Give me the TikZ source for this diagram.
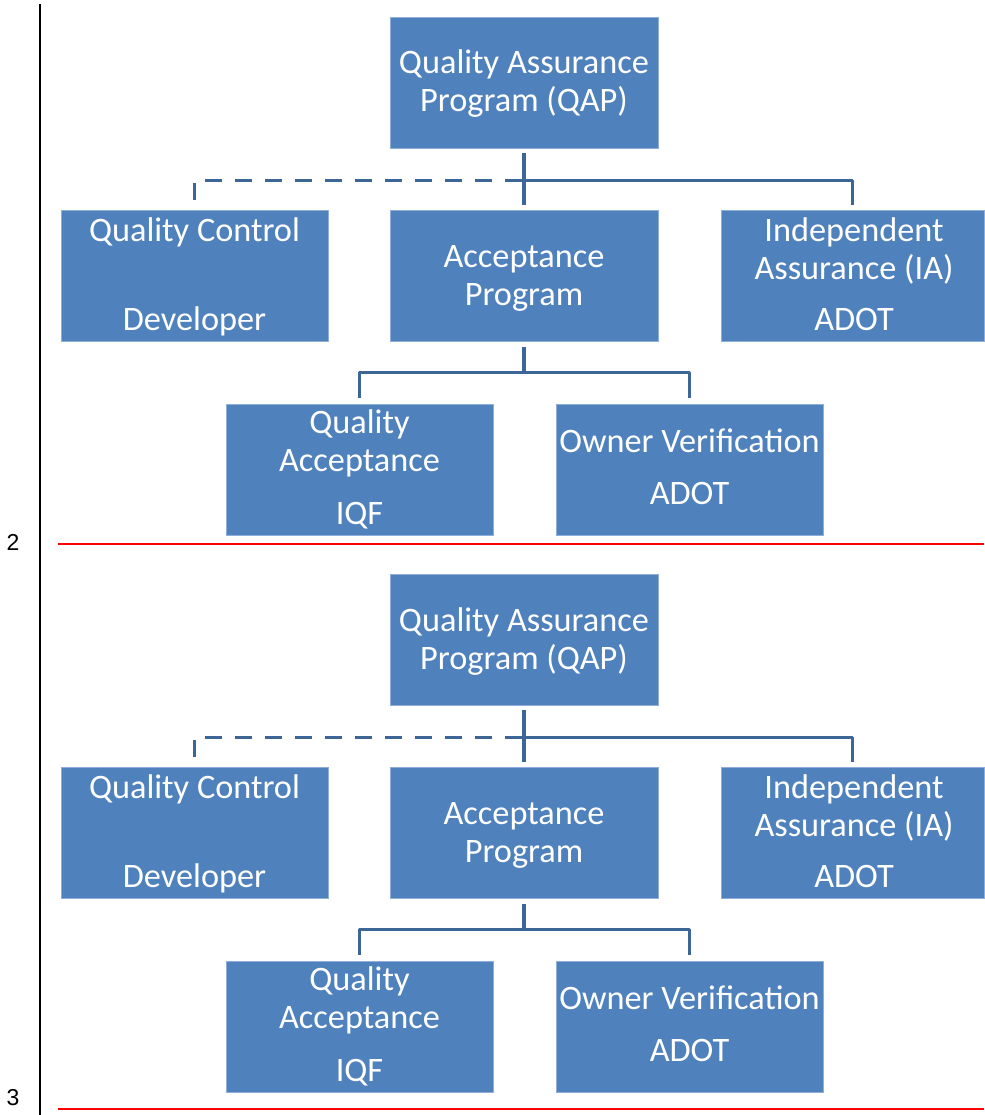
\documentclass[tikz,border=0pt]{standalone}
\usepackage{fontspec}
\setmainfont{Carlito}
\newfontfamily\arialfont{Liberation Sans}
\usetikzlibrary{calc}
\definecolor{boxblue}{HTML}{4F81BD}
\definecolor{boxedge}{HTML}{8FAEDA}
\definecolor{connblue}{HTML}{3C6696}
\tikzset{
  box/.style={draw=boxedge, line width=0.8pt, fill=boxblue, minimum height=131pt, inner sep=0pt},
  lbl/.style={anchor=base, text=white, inner sep=0pt, font=\fontsize{34.3}{40}\selectfont},
  conn/.style={draw=connblue, line width=3.4pt, line join=round},
  dconn/.style={conn, dash pattern=on 17pt off 13pt},
  pagenum/.style={anchor=base, inner sep=0pt, font=\arialfont\fontsize{23}{26}\selectfont}
}
\newcommand\qachart{%
  \node[box, minimum width=268pt] (qap) at (524,82.5) {};
  \node[box, minimum width=267pt] (qc) at (194.5,275.5) {};
  \node[box, minimum width=268pt] (ap) at (524,275.5) {};
  \node[box, minimum width=263pt] (ia) at (852.5,275.5) {};
  \node[box, minimum width=267pt] (qa) at (359.5,469.5) {};
  \node[box, minimum width=267pt] (ov) at (689.5,469.5) {};
  \node[lbl] (qap-a) at (524,74) {Quality Assurance};
  \node[lbl] (qap-b) at (524,112) {Program (QAP)};
  \node[lbl] (qc-a) at (194.5,241) {Quality Control};
  \node[lbl] (qc-b) at (194.5,330) {Developer};
  \node[lbl] (ap-a) at (524,267) {Acceptance};
  \node[lbl] (ap-b) at (524,305) {Program};
  \node[lbl] (ia-a) at (854,241) {Independent};
  \node[lbl] (ia-b) at (854,279) {Assurance (IA)};
  \node[lbl] (ia-c) at (854,330) {ADOT};
  \node[lbl] (qa-a) at (359.5,433) {Quality};
  \node[lbl] (qa-b) at (359.5,471) {Acceptance};
  \node[lbl] (qa-c) at (359.5,524) {IQF};
  \node[lbl] (ov-a) at (689.5,452) {Owner Verification};
  \node[lbl] (ov-b) at (689.5,504) {ADOT};
  \coordinate (hub) at ($(qap.south)+(0,32)$);
  \draw[conn] ($(qap.south)+(0,5)$) -- ($(ap.north)+(0,-5)$);
  \draw[conn] (hub) -| ($(ia.north)+(0,-5)$);
  \draw[dconn] ($(qc.north)+(0,-10)$) |- (hub);
  \coordinate (hubb) at ($(ap.south)+(0,31)$);
  \draw[conn] ($(ap.south)+(0,6)$) -- (hubb);
  \draw[conn] ($(qa.north)+(0,-6)$) |- (hubb) -| ($(ov.north)+(0,-6)$);
}
\begin{document}
\begin{tikzpicture}[x=1pt,y=-1pt]
\useasboundingbox (0,0) rectangle (984,1115);
\fill[white] (0,0) rectangle (984,1115);
\coordinate (vtop) at (40,4);
\coordinate (vbot) at (40,1115);
\draw[black, line width=2.2pt] (vtop) -- (vbot);
\begin{scope}[name prefix=a-]
  \qachart
\end{scope}
\begin{scope}[name prefix=b-, yshift=-557pt]
  \qachart
\end{scope}
\coordinate (r1l) at (58,543.7);
\coordinate (r1r) at (984,543.7);
\coordinate (r2l) at (58,1108.7);
\coordinate (r2r) at (984,1108.7);
\draw[red, line width=2.2pt] (r1l) -- (r1r);
\draw[red, line width=2.2pt] (r2l) -- (r2r);
\node[pagenum] (p2) at (13,550) {2};
\node[pagenum] (p3) at (13,1105) {3};
\end{tikzpicture}
\end{document}
